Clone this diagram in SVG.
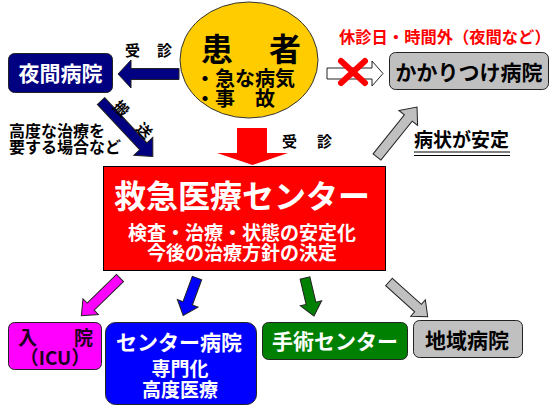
<svg xmlns="http://www.w3.org/2000/svg" width="556" height="414" viewBox="0 0 556 414">
<style>
text{font-family:"Noto Sans CJK JP","Noto Sans",sans-serif;font-weight:bold}
.w{fill:#fff}.k{fill:#000}
.c{text-anchor:middle}
.box{stroke:#222;stroke-width:1}
.arr{stroke:#222;stroke-width:1;stroke-linejoin:miter}
</style>
<rect width="556" height="414" fill="#fff"/>
<g id="connectors">
<path class="arr" fill="#000080" transform="translate(179,74) rotate(180)" d="M0,-5.5 H48 V-14 L61,0 L48,14 V5.5 H0 Z"/>
<path class="arr" fill="#fff" stroke="#444" transform="translate(327,73.5)" d="M0,-5.5 H45 V-12.5 L56,0 L45,12.5 V5.5 H0 Z"/>
<g stroke="#ff0000" stroke-width="6" stroke-linecap="round">
<line x1="341" y1="61" x2="365" y2="83"/>
<line x1="365" y1="61" x2="341" y2="83"/>
</g>
<path class="arr" fill="#000080" transform="translate(101,101) rotate(47)" d="M0,-5 H62 V-13 L76,0 L62,13 V5 H0 Z"/>
<path fill="#ff0000" d="M237,128 L267,128 L267,153 L288,153 L252.5,165 L217,153 L237,153 Z"/>
<path class="arr" fill="#c0c0c0" stroke="#444" transform="translate(377,157) rotate(-51.3)" d="M0,-5 H50 V-12 L64,0 L50,12 V5 H0 Z"/>
<path class="arr" fill="#ff00ff" transform="translate(120,278) rotate(135.7)" d="M0,-5 H41 V-11 L54,0 L41,11 V5 H0 Z"/>
<path class="arr" fill="#0000ff" transform="translate(197,278) rotate(110.2)" d="M0,-5 H27 V-11 L40,0 L27,11 V5 H0 Z"/>
<path class="arr" fill="#008000" transform="translate(305,278) rotate(76.7)" d="M0,-5 H26 V-11 L39,0 L26,11 V5 H0 Z"/>
<path class="arr" fill="#c0c0c0" stroke="#444" transform="translate(389,282) rotate(41.9)" d="M0,-5 H39 V-11 L52,0 L39,11 V5 H0 Z"/>
<text x="125" y="56" font-size="15" class="k">受</text>
<text x="157" y="56" font-size="15" class="k">診</text>
<text x="282" y="147" font-size="15" class="k">受</text>
<text x="317" y="147" font-size="15" class="k">診</text>
<text class="k c" font-size="15" dominant-baseline="central" transform="translate(122,108) rotate(45)">搬</text>
<text class="k c" font-size="15" dominant-baseline="central" transform="translate(145,130) rotate(45)">送</text>
<text x="339" y="43" font-size="16.3" fill="#ff0000">休診日・時間外（夜間など）</text>
<text x="414" y="147" font-size="19" class="k">病状が安定</text>
<line x1="414" y1="152" x2="510" y2="152" stroke="#000" stroke-width="1"/>
<line x1="414" y1="155.5" x2="510" y2="155.5" stroke="#000" stroke-width="1"/>
<text x="9" y="137" font-size="16" class="k">高度な治療を</text>
<text x="9" y="153" font-size="16" class="k">要する場合など</text>
</g>
<g id="patient">
<ellipse cx="249" cy="60" rx="69" ry="58" fill="#ffcc00" stroke="#333" stroke-width="1"/>
<text x="201" y="61" font-size="32" class="k">患</text>
<text x="269" y="61" font-size="32" class="k">者</text>
<text x="195" y="86" font-size="20" class="k">・急な病気</text>
<text x="195" y="106" font-size="20" class="k">・事　故</text>
</g>
<g id="night">
<rect class="box" x="8.5" y="53.5" width="104" height="39" rx="6" fill="#000080"/>
<text x="60.5" y="81" font-size="21" class="w c">夜間病院</text>
</g>
<g id="kakaritsuke">
<rect class="box" x="389.5" y="52.5" width="159" height="37" rx="6" fill="#c0c0c0"/>
<text x="469" y="80" font-size="21" class="k c">かかりつけ病院</text>
</g>
<g id="emergency">
<rect x="103.5" y="166.5" width="282" height="104" fill="#ff0000" stroke="#000" stroke-width="1"/>
<text x="242" y="208" font-size="32" class="w c">救急医療センター</text>
<text x="242" y="240" font-size="19" class="w c">検査・治療・状態の安定化</text>
<text x="242" y="260" font-size="19" class="w c">今後の治療方針の決定</text>
</g>
<g id="icu">
<rect class="box" x="8.5" y="322.5" width="93" height="47" rx="6" fill="#ff00ff"/>
<text x="18" y="345" font-size="19" fill="#200020">入</text>
<text x="74" y="345" font-size="19" fill="#200020">院</text>
<text x="55" y="365" font-size="19" fill="#200020" class="c">（ICU）</text>
</g>
<g id="center-hospital">
<rect class="box" x="105.5" y="322.5" width="151" height="82" rx="10" fill="#0000ff"/>
<text x="179" y="350" font-size="21" class="w c">センター病院</text>
<text x="180" y="376" font-size="19" class="w c">専門化</text>
<text x="180" y="397" font-size="19" class="w c">高度医療</text>
</g>
<g id="surgery">
<rect class="box" x="262.5" y="322.5" width="145" height="37" rx="6" fill="#008000"/>
<text x="335" y="349" font-size="21" class="w c">手術センター</text>
</g>
<g id="regional">
<rect class="box" x="413.5" y="320.5" width="109" height="37" rx="6" fill="#c0c0c0"/>
<text x="467" y="348" font-size="21" class="k c">地域病院</text>
</g>
</svg>
